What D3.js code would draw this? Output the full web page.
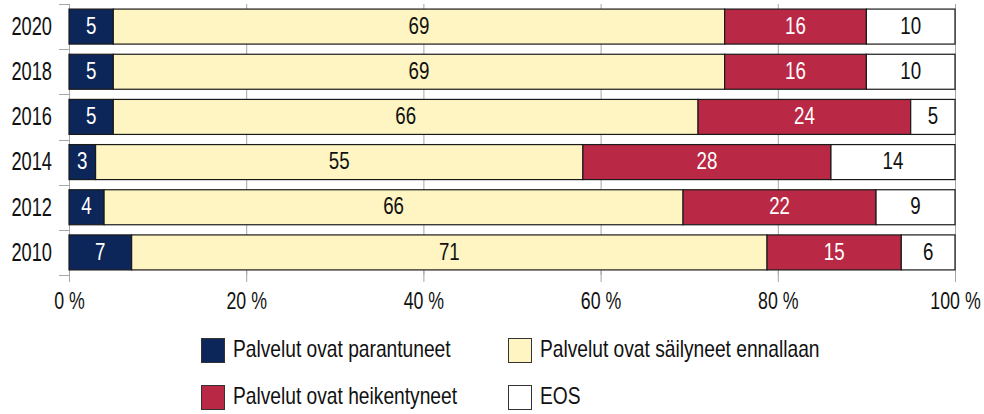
<!DOCTYPE html>
<html>
<head>
<meta charset="utf-8">
<script src="https://cdn.jsdelivr.net/npm/d3@7/dist/d3.min.js"></script>
<style>
  html, body { margin: 0; padding: 0; background: #fff; }
  svg text { font-family: "Liberation Sans", Arial, sans-serif; }
</style>
</head>
<body>
<svg id="chart" width="984" height="414"></svg>
<script>
// Survey years, top to bottom
const years = ["2020", "2018", "2016", "2014", "2012", "2010"];
// Series names (legend order)
const seriesNames = [
  "Palvelut ovat parantuneet",
  "Palvelut ovat säilyneet ennallaan",
  "Palvelut ovat heikentyneet",
  "EOS"
];
// Percentages per year, one array per series
const parantuneet = [5, 5, 5, 3, 4, 7];
const ennallaan   = [69, 69, 66, 55, 66, 71];
const heikentyneet = [16, 16, 24, 28, 22, 15];
const eos         = [10, 10, 5, 14, 9, 6];
// Axis tick values
const xTicks = [0, 0.2, 0.4, 0.6, 0.8, 1];

const colors = ["#0c2659", "#fef5c2", "#b92844", "#ffffff"];
const textColors = ["#ffffff", "#111111", "#ffffff", "#111111"];

// horizontal squeeze giving the narrow lettering
const squeeze = (px, py, sx) => `translate(${px},${py}) scale(${sx},1)`;

const rows = years.map((yr, i) => ({
  year: yr,
  s0: parantuneet[i], s1: ennallaan[i], s2: heikentyneet[i], s3: eos[i]
}));
const keys = ["s0", "s1", "s2", "s3"];

const stacked = d3.stack().keys(keys).offset(d3.stackOffsetExpand)(rows);

const svg = d3.select("#chart");

const x = d3.scaleLinear().domain([0, 1]).range([69, 955]);
const pad = 0.225;
const y = d3.scaleBand().domain(years).range([4, 275]).paddingInner(pad).paddingOuter(pad / 2);

// vertical gridlines
svg.append("g").selectAll("line").data(xTicks).join("line")
  .attr("x1", d => x(d) + 0.5).attr("x2", d => x(d) + 0.5)
  .attr("y1", 4).attr("y2", 275)
  .attr("stroke", "#a6a6a6").attr("stroke-width", 1);

// category axis ticks on band boundaries
const bounds = years.map(yr => y(yr) - y.step() * pad / 2).concat([y.range()[1]]);
svg.append("g").selectAll("line").data(bounds).join("line")
  .attr("x1", 59).attr("x2", 69)
  .attr("y1", d => Math.round(d) + 0.5).attr("y2", d => Math.round(d) + 0.5)
  .attr("stroke", "#a6a6a6").attr("stroke-width", 1);

// stacked bars
const layer = svg.append("g").selectAll("g").data(stacked).join("g")
  .attr("fill", (d, i) => colors[i]);

layer.selectAll("rect").data(d => d).join("rect")
  .attr("x", d => x(d[0]))
  .attr("width", d => x(d[1]) - x(d[0]))
  .attr("y", d => y(d.data.year))
  .attr("height", y.bandwidth())
  .attr("stroke", "#1a1a1a").attr("stroke-width", 1.2);

// value labels
svg.append("g").selectAll("g").data(stacked).join("g")
  .attr("fill", (d, i) => textColors[i])
  .selectAll("text").data(d => d.map(p => ({ p, key: d.key }))).join("text")
  .attr("transform", d => squeeze((x(d.p[0]) + x(d.p[1])) / 2, y(d.p.data.year) + y.bandwidth() / 2, 0.78))
  .attr("dy", "0.3em")
  .attr("text-anchor", "middle")
  .attr("font-size", 24)
  .text(d => d.p.data[d.key]);

// year labels
svg.append("g").selectAll("text").data(years).join("text")
  .attr("transform", d => squeeze(52, y(d) + y.bandwidth() / 2, 0.73))
  .attr("dy", "0.33em")
  .attr("text-anchor", "end")
  .attr("font-size", 25)
  .attr("fill", "#111")
  .text(d => d);

// percentage axis
const xAxis = d3.axisBottom(x).tickValues(xTicks)
  .tickFormat(d => Math.round(d * 100) + " %")
  .tickSize(11).tickPadding(10);
const gx = svg.append("g").attr("transform", "translate(0,271)").call(xAxis);
gx.select(".domain").remove();
gx.selectAll(".tick line").attr("stroke", "#a6a6a6");
gx.selectAll(".tick text")
  .attr("font-size", 24).attr("fill", "#111")
  .attr("transform", "scale(0.74,1)")
  .style("font-family", "'Liberation Sans', Arial, sans-serif");

// legend
const legendPos = [
  { x: 201, y: 338 }, { x: 508, y: 338 },
  { x: 201, y: 385 }, { x: 508, y: 385 }
];
const lg = svg.append("g").selectAll("g").data(seriesNames).join("g")
  .attr("transform", (d, i) => `translate(${legendPos[i].x},${legendPos[i].y})`);
lg.append("rect")
  .attr("x", 0.5).attr("y", 0.5).attr("width", 23).attr("height", 24)
  .attr("fill", (d, i) => colors[i])
  .attr("stroke", "#333").attr("stroke-width", 1);
lg.append("text")
  .attr("transform", squeeze(32, 10.5, 0.8))
  .attr("dy", "0.36em")
  .attr("font-size", 24).attr("fill", "#111")
  .text(d => d);
</script>
</body>
</html>
